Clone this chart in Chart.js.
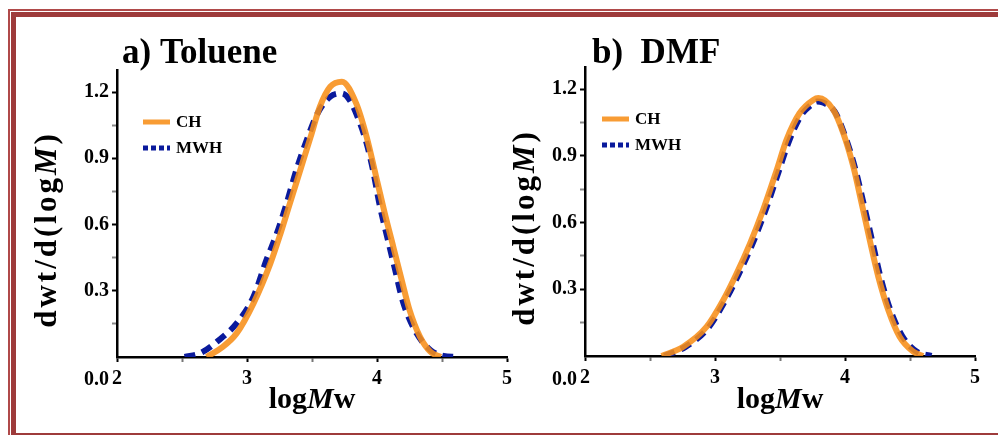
<!DOCTYPE html>
<html>
<head>
<meta charset="utf-8">
<script src="https://cdn.jsdelivr.net/npm/chart.js@4.4.1/dist/chart.umd.min.js"></script>
<style>
  body { margin: 0; background: #fff; width: 998px; height: 435px; overflow: hidden; position: relative; }
  .frame-outer { position: absolute; left: 8px; top: 9px; width: 1020px; height: 440px; border: 2px solid #b04a4a; box-sizing: border-box; }
  .frame-inner { position: absolute; left: 11px; top: 12px; width: 1020px; height: 426px; border: 5px solid #9e3b3b; box-sizing: border-box; }
  canvas { position: absolute; top: 0; }
  #toluene { left: 0; }
  #dmf { left: 500px; }
</style>
</head>
<body>
<div class="frame-outer"></div>
<div class="frame-inner"></div>
<canvas id="toluene" width="530" height="435"></canvas>
<canvas id="dmf" width="498" height="435"></canvas>
<script>
// molecular weight distributions, logMw vs dwt/d(logM)
const tolueneChX  = [2.69, 2.80, 2.92, 3.05, 3.18, 3.25, 3.33, 3.41, 3.49, 3.56, 3.64, 3.73, 3.84, 3.92, 4.00, 4.06, 4.125, 4.19, 4.25, 4.33, 4.41, 4.49];
const tolueneChY  = [0, 0.04, 0.107, 0.243, 0.424, 0.545, 0.696, 0.847, 0.998, 1.133, 1.224, 1.247, 1.149, 0.998, 0.80, 0.65, 0.50, 0.349, 0.213, 0.092, 0.024, 0];
const tolueneMwhX = [2.52, 2.64, 2.77, 2.92, 3.05, 3.15, 3.23, 3.305, 3.38, 3.46, 3.54, 3.64, 3.73, 3.79, 3.87, 3.92, 3.97, 4.02, 4.08, 4.14, 4.20, 4.305, 4.41, 4.51, 4.61];
const tolueneMwhY = [0, 0.017, 0.07, 0.152, 0.273, 0.44, 0.56, 0.696, 0.847, 0.983, 1.10, 1.179, 1.194, 1.164, 1.058, 0.968, 0.845, 0.69, 0.54, 0.394, 0.25, 0.107, 0.032, 0.005, 0];

const dmfChX  = [2.59, 2.756, 2.936, 3.064, 3.167, 3.27, 3.37, 3.475, 3.55, 3.65, 3.756, 3.795, 3.91, 3.987, 4.064, 4.128, 4.19, 4.256, 4.333, 4.42, 4.525, 4.60];
const dmfChY  = [0, 0.042, 0.132, 0.252, 0.372, 0.507, 0.657, 0.837, 0.972, 1.092, 1.152, 1.16, 1.107, 1.002, 0.852, 0.687, 0.522, 0.357, 0.207, 0.087, 0.02, 0];
const dmfMwhX = [2.61, 2.77, 2.95, 3.075, 3.18, 3.285, 3.385, 3.49, 3.565, 3.66, 3.74, 3.785, 3.83, 3.92, 4.00, 4.08, 4.145, 4.21, 4.275, 4.35, 4.44, 4.55, 4.665];
const dmfMwhY = [0, 0.04, 0.128, 0.245, 0.365, 0.50, 0.65, 0.83, 0.96, 1.08, 1.13, 1.145, 1.14, 1.10, 0.99, 0.84, 0.68, 0.515, 0.35, 0.205, 0.09, 0.02, 0];

const xTickLabels = [2, 3, 4, 5];
const yTickLabels = [0.3, 0.6, 0.9, 1.2];

const serif = "'Liberation Serif', 'Times New Roman', serif";
const orange = 'rgba(247, 142, 24, 0.88)';
const navy = '#0a1a9c';

const pts = (xs, ys) => xs.map((x, i) => ({ x: x, y: ys[i] }));
const near = (v, list) => list.some(t => Math.abs(t - v) < 1e-6);

// text made of upright and italic runs, centred on (x, y)
function drawRuns(ctx, runs, x, y, size, spacing) {
  ctx.letterSpacing = (spacing || 0) + 'px';
  const fonts = runs.map(r => (r[1] ? 'italic ' : '') + 'bold ' + size + 'px ' + serif);
  let total = 0;
  const widths = runs.map((r, i) => { ctx.font = fonts[i]; const w = ctx.measureText(r[0]).width; total += w; return w; });
  let cx = x - total / 2;
  ctx.textAlign = 'left';
  runs.forEach((r, i) => { ctx.font = fonts[i]; ctx.fillText(r[0], cx, y); cx += widths[i]; });
  ctx.letterSpacing = '0px';
}

const decorations = {
  id: 'decorations',
  afterDraw(chart, args, opts) {
    const ctx = chart.ctx;
    const a = chart.chartArea;
    ctx.save();
    ctx.letterSpacing = '0px';
    ctx.fillStyle = '#000';
    ctx.textBaseline = 'alphabetic';

    // panel heading
    ctx.font = 'bold 35px ' + serif;
    ctx.textAlign = 'left';
    ctx.fillText(opts.heading, a.left + opts.headingDx, 63);

    // zero label sits down beside the first x tick
    ctx.font = 'bold 20px ' + serif;
    ctx.textAlign = 'right';
    ctx.fillText('0.0', a.left - 8, 385);

    // x title
    drawRuns(ctx, [['log', false], ['M', true], ['w', false]], (a.left + a.right) / 2, 408, 30);

    // in-plot legend
    const ds = chart.data.datasets;
    const lx = a.left + opts.legendDx;
    [0, 1].forEach(i => {
      const y = a.top + 52 + i * 26;
      ctx.beginPath();
      ctx.strokeStyle = ds[i].borderColor;
      ctx.lineWidth = 5;
      ctx.setLineDash(i === 0 ? [] : [5, 3]);
      ctx.moveTo(lx, y);
      ctx.lineTo(lx + 27, y);
      ctx.stroke();
      ctx.setLineDash([]);
      ctx.font = 'bold 17px ' + serif;
      ctx.textAlign = 'left';
      ctx.textBaseline = 'middle';
      ctx.fillText(ds[i].label, lx + 33, y + 1);
    });

    // y title
    ctx.textBaseline = 'middle';
    ctx.translate(opts.yTitleX, (a.top + a.bottom) / 2 + 16);
    ctx.rotate(-Math.PI / 2);
    drawRuns(ctx, [['dwt/d(log', false], ['M', true], [')', false]], 0, 0, 31, 3);
    ctx.restore();
  }
};

function makeChart(id, chX, chY, mwhX, mwhY, deco, pad) {
  return new Chart(document.getElementById(id), {
    type: 'line',
    data: {
      datasets: [{
        label: 'CH',
        data: pts(chX, chY),
        borderColor: orange,
        borderWidth: 6,
        pointRadius: 0,
        cubicInterpolationMode: 'monotone',
        fill: false
      }, {
        label: 'MWH',
        data: pts(mwhX, mwhY),
        borderColor: navy,
        borderWidth: 6,
        borderDash: [11, 7],
        pointRadius: 0,
        cubicInterpolationMode: 'monotone',
        fill: false
      }]
    },
    options: {
      responsive: false,
      animation: false,
      layout: { padding: pad },
      plugins: {
        legend: { display: false },
        tooltip: { enabled: false },
        decorations: deco
      },
      scales: {
        x: {
          type: 'linear',
          min: 2,
          max: 5,
          afterFit: s => { s.height = 50; },
          ticks: {
            stepSize: 0.5,
            autoSkip: false,
            maxRotation: 0,
            padding: 5,
            color: '#000',
            font: { family: serif, size: 20, weight: 'bold' },
            callback: v => near(v, xTickLabels) ? String(v) : ''
          },
          grid: {
            drawOnChartArea: false,
            tickLength: 5,
            tickWidth: 2,
            tickColor: c => near(c.tick.value, xTickLabels) ? '#000' : '#777'
          },
          border: { color: '#000', width: 2.5 }
        },
        y: {
          min: 0,
          max: 1.3,
          afterFit: s => { s.width = 60; },
          ticks: {
            stepSize: 0.15,
            includeBounds: false,
            autoSkip: false,
            padding: 3,
            color: '#000',
            font: { family: serif, size: 20, weight: 'bold' },
            callback: v => near(v, yTickLabels) ? v.toFixed(1) : ''
          },
          grid: {
            drawOnChartArea: false,
            tickLength: 5,
            tickWidth: 2,
            tickColor: c => {
              const v = c.tick.value;
              if (near(v, yTickLabels)) return '#000';
              return v > 0 ? '#888' : 'rgba(0,0,0,0)';
            }
          },
          border: { color: '#000', width: 2.5 }
        }
      }
    },
    plugins: [decorations]
  });
}

makeChart('toluene', tolueneChX, tolueneChY, tolueneMwhX, tolueneMwhY,
  { heading: 'a) Toluene', headingDx: 5, legendDx: 26, yTitleX: 48 },
  { left: 57, top: 70, right: 23, bottom: 28 });

makeChart('dmf', dmfChX, dmfChY, dmfMwhX, dmfMwhY,
  { heading: 'b)  DMF', headingDx: 7, legendDx: 17, yTitleX: 26 },
  { left: 25, top: 67, right: 23, bottom: 29 });
</script>
</body>
</html>
